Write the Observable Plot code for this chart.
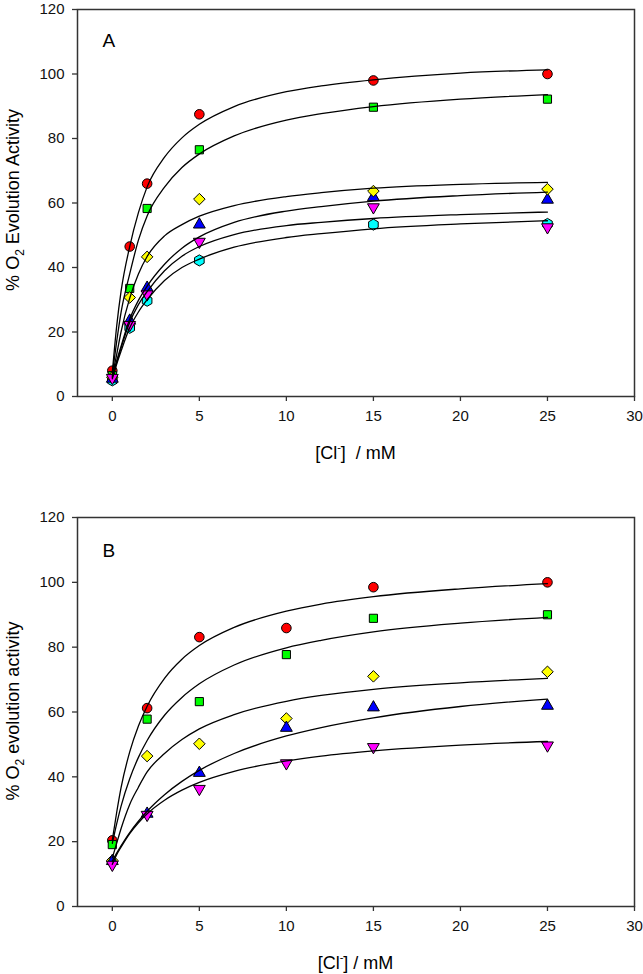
<!DOCTYPE html>
<html>
<head>
<meta charset="utf-8">
<script src="https://cdn.jsdelivr.net/npm/d3@7"></script>
<script src="https://cdn.jsdelivr.net/npm/@observablehq/plot@0.6"></script>
<style>
  html, body { margin: 0; padding: 0; background: #fff; }
  #chart svg { display: block; }
</style>
</head>
<body>
<div id="chart"></div>
<script>
// ---------- tick labels ----------
const xTicks = [0, 5, 10, 15, 20, 25, 30];
const yTicks = [0, 20, 40, 60, 80, 100, 120];

// ---------- Panel A: measured points ----------
const aConc    = [0, 1, 2, 5, 15, 25];
const aRed     = [8.0, 46.5, 66.0, 87.5, 98.0, 100.0];
const aGreen   = [6.5, 33.5, 58.3, 76.5, 89.7, 92.2];
const aYellow  = [6.0, 30.7, 43.3, 61.2, 63.7, 64.3];
const aBlue    = [5.5, 23.5, 33.7, 53.3, 61.8, 61.0];
const aMagenta = [5.8, 22.2, 31.7, 48.0, 58.7, 52.5];
const aCyan    = [5.0, 21.3, 29.7, 42.2, 53.3, 53.5];

// ---------- Panel A: fitted curves ----------
const fitX = [0, 0.25, 0.5, 1, 1.5, 2, 3, 4, 5, 7, 10, 12, 15, 20, 25];
const fitA1 = [7.5, 21.8, 32.5, 46.5, 57.0, 65.0, 74.2, 80.2, 84.4, 89.9, 94.5, 96.3, 98.2, 100.3, 101.3];
const fitA2 = [7.0, 17.0, 26.0, 38.0, 48.5, 56.0, 64.9, 71.0, 75.2, 80.8, 85.7, 87.7, 89.9, 92.2, 93.6];
const fitA3 = [6.5, 13.0, 20.0, 30.5, 38.0, 43.4, 49.8, 53.3, 55.9, 59.2, 62.0, 63.2, 64.6, 65.8, 66.4];
const fitA4 = [6.0, 11.0, 15.5, 24.0, 29.8, 34.2, 41.0, 46.0, 49.5, 54.0, 57.5, 58.9, 60.6, 62.3, 63.4];
const fitA5 = [6.0, 10.5, 15.0, 23.0, 28.5, 32.5, 39.0, 43.5, 46.5, 50.2, 53.0, 54.0, 55.2, 56.4, 57.2];
const fitA6 = [5.5, 10.0, 14.0, 21.3, 26.2, 30.0, 36.0, 40.0, 42.6, 46.3, 49.3, 50.5, 52.0, 53.5, 54.5];

// ---------- Panel B: measured points ----------
const bConc    = [0, 2, 5, 10, 15, 25];
const bRed     = [20.4, 61.2, 83.1, 85.9, 98.5, 100.0];
const bGreen   = [19.1, 57.8, 63.2, 77.7, 88.9, 90.0];
const bYellow  = [14.2, 46.4, 50.2, 58.0, 71.0, 72.4];
const bBlue    = [14.0, 28.6, 41.2, 55.1, 61.4, 61.9];
const bMagenta = [12.9, 28.3, 36.3, 44.2, 49.2, 49.7];

// ---------- Panel B: fitted curves ----------
const fitB1 = [20.5, 29.0, 36.6, 47.7, 55.7, 61.8, 70.4, 76.3, 80.5, 86.1, 91.1, 93.3, 95.6, 98.0, 99.6];
const fitB2 = [19.5, 25.5, 30.9, 39.4, 46.0, 51.2, 59.0, 64.5, 68.7, 74.5, 79.8, 82.1, 84.7, 87.4, 89.2];
const fitB3 = [15.0, 19.5, 24.0, 31.5, 36.8, 41.5, 47.2, 51.5, 54.8, 59.2, 63.3, 65.1, 67.0, 69.0, 70.4];
const fitB4 = [14.0, 16.5, 18.7, 22.8, 26.3, 29.4, 34.5, 38.6, 42.0, 47.2, 52.6, 55.2, 58.2, 61.7, 64.0];
const fitB5 = [13.0, 16.0, 18.3, 22.5, 25.8, 28.6, 32.8, 35.9, 38.3, 41.7, 44.9, 46.4, 48.0, 49.8, 50.9];

// ---------- helpers ----------
const rows = (xs, ys) => xs.map((x, i) => ({x, y: ys[i]}));
const FONT = "'Liberation Sans', Arial, Helvetica, sans-serif";

const symStyle = {
  red:     {symbol: "circle",   fill: "#ff0000", r: 4.8, rotate: 0},
  green:   {symbol: "square",   fill: "#00ff00", r: 4.6, rotate: 0},
  yellow:  {symbol: "diamond2", fill: "#ffff00", r: 5.2, rotate: 0},
  blue:    {symbol: "triangle", fill: "#0000ff", r: 4.4, rotate: 0},
  magenta: {symbol: "triangle", fill: "#ff00ff", r: 4.4, rotate: 180},
  cyan:    {symbol: "hexagon",  fill: "#00ffff", r: 4.8, rotate: 0}
};

function dotMark(xs, ys, key) {
  const s = symStyle[key];
  return Plot.dot(rows(xs, ys), {
    x: "x", y: "y", symbol: s.symbol, fill: s.fill, r: s.r, rotate: s.rotate,
    stroke: "#000", strokeWidth: 1
  });
}

function fitMark(ys) {
  return Plot.line(rows(fitX, ys), {x: "x", y: "y", curve: "monotone-x", stroke: "#000", strokeWidth: 1.3});
}

function panel({height, marginTop, marginBottom, series, fits, letter, letterDy, ylabel, xlabelSpaces, xlabelBaseline, ylabelCenter}) {
  const svg = Plot.plot({
    width: 643,
    height,
    marginLeft: 77,
    marginRight: 9,
    marginTop,
    marginBottom,
    style: {fontFamily: FONT, fontSize: "15px", color: "#111", background: "#fff"},
    x: {domain: [-2, 30]},
    y: {domain: [0, 120]},
    marks: [
      Plot.frame({stroke: "#333", strokeWidth: 1.5}),
      Plot.axisX({ticks: xTicks, tickSize: 5, tickPadding: 9, fontSize: 15, label: null, stroke: "#333", strokeWidth: 1.3}),
      Plot.axisY({ticks: yTicks, tickSize: 5, tickPadding: 8, fontSize: 15, label: null, stroke: "#333", strokeWidth: 1.3}),
      ...series.map(([xs, ys, key]) => dotMark(xs, ys, key)),
      ...fits.map(fitMark),
      Plot.text([letter], {frameAnchor: "top-left", text: d => d, dx: 25, dy: letterDy, lineAnchor: "bottom",
        fontSize: 19, fill: "#000", textAnchor: "start"})
    ]
  });
  const s = d3.select(svg);
  // y-axis title with subscript
  const yt = s.append("text")
    .attr("transform", `translate(19,${ylabelCenter}) rotate(-90)`)
    .attr("text-anchor", "middle")
    .attr("font-family", FONT)
    .attr("font-size", 18)
    .attr("fill", "#000");
  yt.append("tspan").text("% O");
  yt.append("tspan").attr("font-size", 12).attr("dy", 5).text("2");
  yt.append("tspan").attr("dy", -5).text("\u00a0" + ylabel);
  // x-axis title with superscript
  const xt = s.append("text")
    .attr("x", 355.5)
    .attr("y", xlabelBaseline)
    .attr("text-anchor", "middle")
    .attr("font-family", FONT)
    .attr("font-size", 18)
    .attr("fill", "#000");
  xt.append("tspan").text("[Cl");
  xt.append("tspan").attr("font-size", 11).attr("dy", -8).text("-");
  xt.append("tspan").attr("dy", 8).text("]" + xlabelSpaces + "/ mM");
  return svg;
}

const svgA = panel({
  height: 470, marginTop: 9, marginBottom: 74,
  series: [
    [aConc, aCyan, "cyan"],
    [aConc, aRed, "red"],
    [aConc, aGreen, "green"],
    [aConc, aBlue, "blue"],
    [aConc, aYellow, "yellow"],
    [aConc, aMagenta, "magenta"]
  ],
  fits: [fitA1, fitA2, fitA3, fitA4, fitA5, fitA6],
  letter: "A",
  letterDy: 37,
  ylabel: "Evolution Activity",
  xlabelSpaces: "\u00a0\u00a0",
  xlabelBaseline: 459,
  ylabelCenter: 200
});

const svgB = panel({
  height: 504, marginTop: 47, marginBottom: 68,
  series: [
    [bConc, bRed, "red"],
    [bConc, bGreen, "green"],
    [bConc, bYellow, "yellow"],
    [bConc, bBlue, "blue"],
    [bConc, bMagenta, "magenta"]
  ],
  fits: [fitB1, fitB2, fitB3, fitB4, fitB5],
  letter: "B",
  letterDy: 39,
  ylabel: "evolution activity",
  xlabelSpaces: "\u00a0",
  xlabelBaseline: 499,
  ylabelCenter: 241
});

document.getElementById("chart").append(svgA, svgB);
</script>
</body>
</html>
